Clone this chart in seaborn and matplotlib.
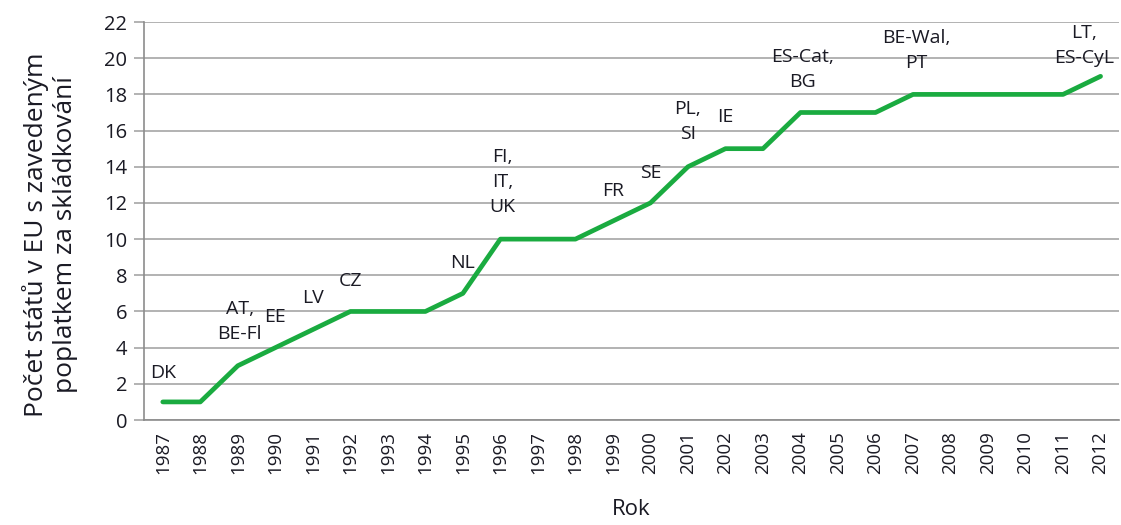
import pandas as pd
import numpy as np
import seaborn as sns
import matplotlib.pyplot as plt
from matplotlib.ticker import FixedLocator

sns.set_style('white')
plt.rcParams['font.family'] = ['Open Sans', 'DejaVu Sans']

years = ['1987', '1988', '1989', '1990', '1991', '1992', '1993', '1994', '1995',
         '1996', '1997', '1998', '1999', '2000', '2001', '2002', '2003', '2004',
         '2005', '2006', '2007', '2008', '2009', '2010', '2011', '2012']
counts = [1, 1, 3, 4, 5, 6, 6, 6, 7, 10, 10, 10, 11, 12, 14, 15, 15, 17,
          17, 17, 18, 18, 18, 18, 18, 19]

# country labels: text, year it sits over, height in y units
labelText = ['DK', 'AT,\nBE-Fl', 'EE', 'LV', 'CZ', 'NL', 'FI,\nIT,\nUK', 'FR', 'SE',
             'PL,\nSI', 'IE', 'ES-Cat,\nBG', 'BE-Wal,\nPT', 'LT,\nES-CyL']
labelYear = ['1987', '1989', '1990', '1991', '1992', '1995', '1996', '1999', '2000',
             '2001', '2002', '2004', '2007', '2011']
labelY = [2.6, 5.47, 5.7, 6.75, 7.7, 8.7, 13.16, 12.65, 13.65, 16.5, 16.75, 19.4, 20.4, 20.73]
labelShift = [0, 0.05, 0, 0, 0, 0, 0.05, 0, 0, 0, 0, 0.05, 0.1, 0.55]

df = pd.DataFrame({'year': years, 'count': counts})

fig = plt.figure(figsize=(11.21, 5.25), dpi=100)
ax = fig.add_axes([0.1285, 0.2, 0.87, 0.758])

sns.lineplot(data=df, x='year', y='count', ax=ax, color='#1aab40', linewidth=3.4)

ax.set_xlim(-0.5, len(years) - 0.5)
ax.set_ylim(0, 22)
ax.set_yticks(range(0, 23, 2))
ax.yaxis.grid(True, color='#a6a6a6', linewidth=1.2)
ax.set_axisbelow(True)

for t, yr, yv, sh in zip(labelText, labelYear, labelY, labelShift):
    ax.text(years.index(yr) + sh, yv, t, ha='center', va='center', fontsize=14,
            color='#1a1a24', linespacing=1.5)

ax.set_xticks(range(len(years)))
ax.set_xticklabels(years, rotation=90, fontsize=13.5, color='#1a1a24')
ax.xaxis.set_minor_locator(FixedLocator(np.arange(-0.5, len(years), 1)))
ax.tick_params(axis='x', which='major', length=0, pad=8)
ax.tick_params(axis='x', which='minor', length=8, color='#8c8c8c', width=1.2)
ax.tick_params(axis='y', length=7, color='#a6a6a6', width=1.2, labelsize=14.5,
               labelcolor='#1a1a24', left=True, pad=5)

for s in ['top', 'right']:
    ax.spines[s].set_visible(False)
for s in ['left', 'bottom']:
    ax.spines[s].set_color('#8c8c8c')
    ax.spines[s].set_linewidth(1.2)

ax.set_xlabel('Rok', fontsize=16, color='#1a1a24', labelpad=18)
ax.set_ylabel('Počet států v EU s zavedeným\npoplatkem za skládkování', fontsize=19,
              color='#1a1a24', linespacing=1.2)
ax.yaxis.set_label_coords(-0.068, 0.465)

fig.savefig('out.png', dpi=100)
